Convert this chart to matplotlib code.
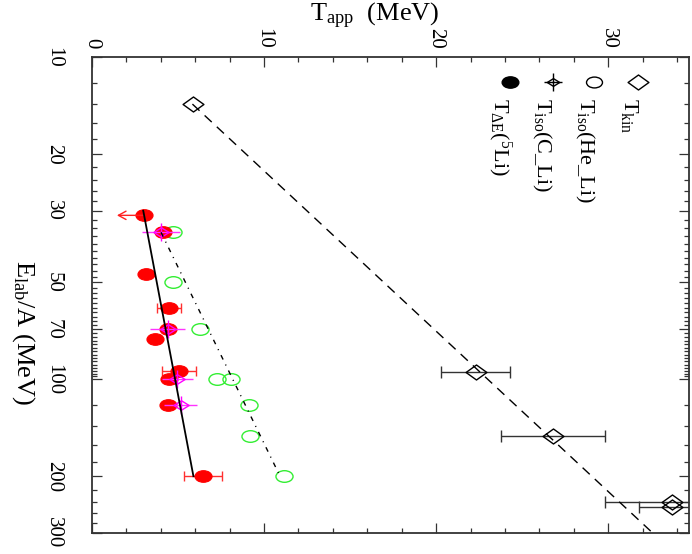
import matplotlib
matplotlib.use('Agg')
import matplotlib.pyplot as plt
import numpy as np
from matplotlib.path import Path
from matplotlib.ticker import FixedLocator, NullFormatter

plt.rcParams['font.family'] = ['Liberation Serif', 'DejaVu Serif']
plt.rcParams['mathtext.fontset'] = 'custom'
plt.rcParams['mathtext.rm'] = 'Liberation Serif'
plt.rcParams['mathtext.it'] = 'Liberation Serif:italic'

# data (x = apparent temperature in MeV, y = E_lab/A in MeV)
# T_kin, open diamonds
e_kin = [14, 95, 150, 240, 250]
t_kin = [5.85, 22.3, 26.8, 33.7, 33.7]
dt_kin = [0.0, 2.0, 3.0, 3.9, 1.9]

# T_iso(He_Li), open green circles
e_heli = [35, 50, 70, 100, 100, 120, 150, 200]
t_heli = [4.7, 4.7, 6.3, 7.25, 8.1, 9.1, 9.2, 11.15]

# T_iso(C_Li), magenta crossed diamonds
e_cli = [35, 70, 100, 120]
t_cli = [4.0, 4.4, 4.95, 5.15]
dt_cli = [1.1, 1.0, 0.9, 0.95]

# T_dE(5Li), filled red circles (first one is an upper limit)
e_li5 = [31, 35, 47, 60, 70, 75, 94, 100, 120, 200]
t_li5 = [3.0, 4.1, 3.15, 4.5, 4.4, 3.65, 5.05, 4.5, 4.4, 6.45]
dt_li5 = [0, 0, 0, 0.7, 0, 0, 1.0, 0, 0, 1.1]
uplim_len = 1.55

# straight line fits: T = a + b*log10(E), drawn from E0 to E1
fit_kin = (-17.2, 20.1, 14, 300)
fit_heli = (-10.1, 9.14, 35, 198)
fit_li5 = (-2.25, 3.54, 30, 200)

W, H = 692, 554


def px(x, y):
    '''pixel position -> figure fraction'''
    return x / W, 1 - y / H


def shape(verts):
    codes = [Path.MOVETO] + [Path.LINETO] * (len(verts) - 2) + [Path.CLOSEPOLY]
    return Path(verts, codes)


circ = Path.unit_circle()
ellipse = Path(circ.vertices * [1, 0.68], circ.codes)
diamond = shape([(1, 0), (0, 0.72), (-1, 0), (0, -0.72), (1, 0)])
thin_diamond = shape([(1, 0), (0, 0.62), (-1, 0), (0, -0.62), (1, 0)])


def fit_line(ax, fit, **kw):
    a, b, e0, e1 = fit
    e = np.geomspace(e0, e1, 60)
    ax.plot(a + b * np.log10(e), e, **kw)


def errs(ax, t, e, dt, color, cap):
    t, e, dt = np.array(t), np.array(e), np.array(dt)
    m = dt > 0
    ax.errorbar(t[m], e[m], xerr=dt[m], fmt='none', ecolor=color,
                elinewidth=1.0, capsize=cap, capthick=1.0, zorder=2)


fig = plt.figure(figsize=(W / 100, H / 100), dpi=100)
ax = fig.add_axes([92 / W, 21 / H, 597 / W, 476 / H])

# T_kin
errs(ax, t_kin, e_kin, dt_kin, '#333333', 4)
ax.plot(t_kin, e_kin, ls='none', marker=diamond, ms=15, mfc='none',
        mec='k', mew=1.0, zorder=3)
fit_line(ax, fit_kin, color='k', lw=1.0, dashes=(7, 5), zorder=5)

# T_iso(He_Li)
ax.plot(t_heli, e_heli, ls='none', marker=ellipse, ms=12.3, mfc='none',
        mec='#33ee33', mew=1.0, zorder=3)
fit_line(ax, fit_heli, color='k', lw=1.0, dashes=(3.5, 4, 0.8, 4), zorder=5)

# T_dE(5Li)
errs(ax, t_li5, e_li5, dt_li5, '#ff3030', 3.5)
ax.plot(t_li5, e_li5, ls='none', marker=ellipse, ms=12.3, mfc='#ff0000',
        mec='#ff0000', mew=0.8, zorder=4)
ax.annotate('', xy=(t_li5[0] - uplim_len, e_li5[0]), xytext=(t_li5[0], e_li5[0]),
            arrowprops=dict(arrowstyle='->,head_length=0.55,head_width=0.3',
                            color='#ff2020', lw=1.0, shrinkA=0, shrinkB=0),
            zorder=4)
fit_line(ax, fit_li5, color='k', lw=1.3, zorder=6)

# T_iso(C_Li)
ax.errorbar(t_cli, e_cli, xerr=dt_cli, fmt='none', ecolor='#ff33ff',
            elinewidth=1.0, zorder=4.5)
ax.plot(t_cli, e_cli, ls='none', marker=thin_diamond, ms=11, mfc='none',
        mec='#ff00ff', mew=1.0, zorder=4.6)
ax.plot(t_cli, e_cli, ls='none', marker='|', ms=13, mec='#ff00ff',
        mew=1.0, zorder=4.6)

# axes
ax.set_yscale('log')
ax.set_ylim(300, 10)
ax.set_xlim(0, 34.7)

ymaj = [10, 20, 30, 50, 70, 100, 200, 300]
ymin = [v for v in list(range(12, 100, 2)) + list(range(120, 300, 20)) if v not in ymaj]
ax.yaxis.set_major_locator(FixedLocator(ymaj))
ax.yaxis.set_minor_locator(FixedLocator(ymin))
ax.yaxis.set_minor_formatter(NullFormatter())
ax.set_yticklabels([str(v) for v in ymaj])

ax.set_xticks([0, 10, 20, 30])
ax.set_xticks(np.arange(0, 35, 2), minor=True)

ax.xaxis.tick_top()
ax.tick_params(which='both', direction='in', top=True, bottom=True,
               left=True, right=True, width=0.9, color='#333333')
ax.tick_params(which='major', length=7.5)
ax.tick_params(which='minor', length=3.8)
ax.tick_params(axis='x', labeltop=True, labelbottom=False, labelrotation=-90,
               labelsize=15, pad=6)
ax.tick_params(axis='y', labelrotation=-90, labelsize=15, pad=21)
plt.setp(ax.get_yticklabels(), va='center')
plt.setp(ax.get_xticklabels(), ha='center')
for s in ax.spines.values():
    s.set_linewidth(1.3)
    s.set_color('#333333')

# axis titles
fig.text(*px(310, 21), r'$\mathrm{T_{app}}$  (MeV)', fontsize=19,
         ha='left', va='baseline')
fig.text(*px(17, 260), r'$\mathrm{E_{lab}}$/A (MeV)', fontsize=19,
         rotation=-90, rotation_mode='anchor', ha='left', va='baseline')

# legend
leg_y = 82
fig.add_artist(plt.Line2D([px(638, leg_y)[0]], [px(638, leg_y)[1]],
                          marker=diamond, ms=15, mfc='none', mec='k', mew=1.0))
fig.add_artist(plt.Line2D([px(594, leg_y)[0]], [px(594, leg_y)[1]],
                          marker=ellipse, ms=11.5, mfc='none', mec='k', mew=1.0))
fig.add_artist(plt.Line2D([px(553, leg_y)[0]], [px(553, leg_y)[1]],
                          marker=thin_diamond, ms=9, mfc='none', mec='k', mew=1.0))
fig.add_artist(plt.Line2D([px(553, leg_y)[0]], [px(553, leg_y)[1]],
                          marker='+', ms=13, mec='k', mew=1.0))
fig.add_artist(plt.Line2D([px(510, leg_y)[0]], [px(510, leg_y)[1]],
                          marker=ellipse, ms=12, mfc='k', mec='k', mew=1.0))

leg_txt = [r'$\mathrm{T_{kin}}$', r'$\mathrm{T_{iso}}$(He_Li)',
           r'$\mathrm{T_{iso}}$(C_Li)', r'$\mathrm{T_{\Delta E}}$($^{5}$Li)']
leg_x = [624, 580, 537, 494]
for x, s in zip(leg_x, leg_txt):
    fig.text(*px(x, 98), s, fontsize=16, rotation=-90, rotation_mode='anchor',
             ha='left', va='baseline')

fig.savefig('out.png', dpi=100)
